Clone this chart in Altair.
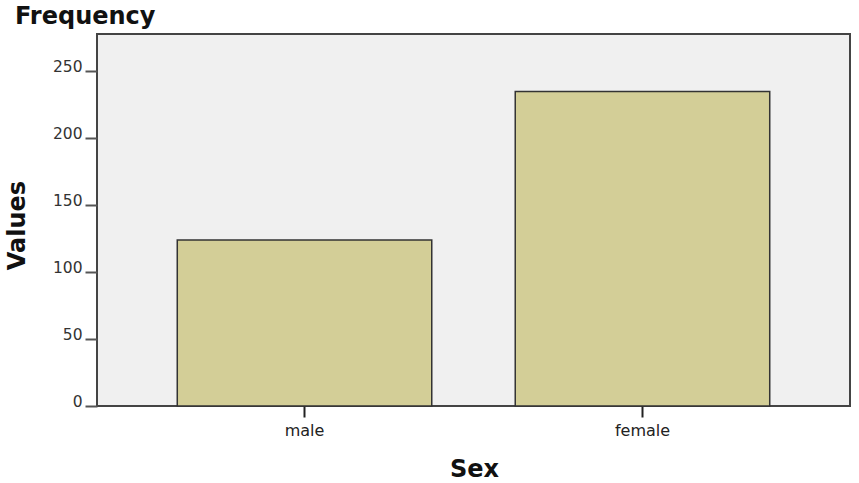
import altair as alt
import pandas as pd

categories = ["male", "female"]
values = [124, 235]
y_ticks = [0, 50, 100, 150, 200, 250]

df = pd.DataFrame({"Sex": categories, "Values": values})

FONT = "DejaVu Sans"

chart = (
    alt.Chart(df)
    .mark_bar(fill="#D3CE97", stroke="#333333", strokeWidth=1.5)
    .encode(
        x=alt.X(
            "Sex:N",
            sort=categories,
            scale=alt.Scale(paddingInner=0.247, paddingOuter=0.2375),
            axis=alt.Axis(
                title="Sex",
                titleFont=FONT,
                titleFontSize=24,
                titleFontWeight="bold",
                titleColor="#111111",
                titleX=377,
                titleY=70,
                titleBaseline="alphabetic",
                titleAlign="center",
                labelAngle=0,
                labelFont=FONT,
                labelFontSize=16,
                labelColor="#222222",
                labelPadding=5,
                tickSize=11,
                tickWidth=2,
                tickColor="#222222",
                domain=False,
                grid=False,
            ),
        ),
        y=alt.Y(
            "Values:Q",
            scale=alt.Scale(domain=[0, 278], nice=False),
            axis=alt.Axis(
                title="Values",
                titleFont=FONT,
                titleFontSize=24,
                titleFontWeight="bold",
                titleColor="#111111",
                titleAngle=-90,
                titleX=-73,
                titleY=191,
                titleBaseline="alphabetic",
                titleAlign="center",
                values=y_ticks,
                labelFont=FONT,
                labelFontSize=15.5,
                labelColor="#333333",
                labelBaseline="alphabetic",
                labelPadding=3,
                tickSize=12,
                tickWidth=2,
                tickColor="#555555",
                domain=False,
                grid=False,
            ),
        ),
    )
    .properties(
        width=753,
        height=372,
        title=alt.TitleParams(
            text="Frequency",
            anchor="start",
            frame="group",
            dx=-82,
            dy=16,
            offset=2,
            baseline="alphabetic",
            font=FONT,
            fontSize=24,
            fontWeight="bold",
            color="#111111",
        ),
        autosize=alt.AutoSizeParams(type="none"),
        padding={"left": 97, "top": 34, "right": 9, "bottom": 77},
        background="#FFFFFF",
    )
    .configure_view(stroke="#444444", strokeWidth=2, fill="#F0F0F0")
)

chart.save("out.html", embed_options={"renderer": "svg", "actions": False})
